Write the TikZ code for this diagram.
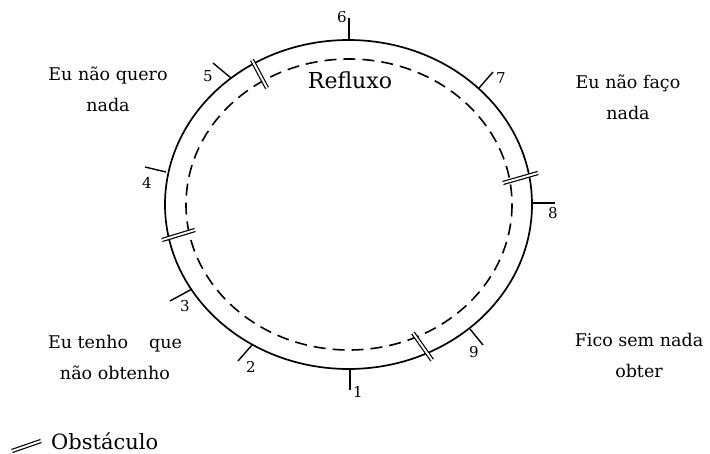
\documentclass[tikz,border=0pt]{standalone}
\usepackage{fontspec}
\setmainfont{DejaVu Serif}
\begin{document}
\begin{tikzpicture}[x=1pt,y=-1pt,
  ring/.style={line width=1.7pt},
  flow/.style={line width=1.6pt, dash pattern=on 12pt off 7pt},
  tick/.style={line width=1.4pt},
  obst/.style={double, double distance=1.9pt, line width=1.2pt},
  num/.style={font=\fontsize{15}{17}\selectfont, inner sep=0pt},
  lbl/.style={font=\fontsize{17.5}{31}\selectfont, align=center, inner sep=0pt}]
\useasboundingbox (0,0) rectangle (710,454);
% rings
\draw[ring] (348.5,204.5) ellipse [x radius=183.5, y radius=164.5];
\draw[flow] (349,204.5) ellipse [x radius=163, y radius=145.5];
% tick coordinates
\coordinate (t1a) at (350,369); \coordinate (t1b) at (350,390);
\coordinate (t2a) at (252,345); \coordinate (t2b) at (238,361);
\coordinate (t3a) at (192,289); \coordinate (t3b) at (170,301);
\coordinate (t4a) at (166,172); \coordinate (t4b) at (145,167);
\coordinate (t5a) at (231,78);  \coordinate (t5b) at (213,63);
\coordinate (t6a) at (349,40);  \coordinate (t6b) at (349,18);
\coordinate (t7a) at (479,88);  \coordinate (t7b) at (493,72);
\coordinate (t8a) at (533,203); \coordinate (t8b) at (555,203);
\coordinate (t9a) at (470,329); \coordinate (t9b) at (483,345);
\foreach \i in {1,...,9} {\draw[tick] (t\i a) -- (t\i b);}
% numbers
\node[num] (n1) at (358,392) {1};
\node[num] (n2) at (251,367) {2};
\node[num] (n3) at (185,306) {3};
\node[num] (n4) at (147,183) {4};
\node[num] (n5) at (208,76) {5};
\node[num] (n6) at (342,17) {6};
\node[num] (n7) at (501,78) {7};
\node[num] (n8) at (553,213) {8};
\node[num] (n9) at (474,352) {9};
% obstacles
\coordinate (o1a) at (252,60);  \coordinate (o1b) at (267,88);
\coordinate (o2a) at (162,240); \coordinate (o2b) at (195,230);
\coordinate (o3a) at (503,183); \coordinate (o3b) at (538,173);
\coordinate (o4a) at (413,333); \coordinate (o4b) at (432,360);
\foreach \i in {1,...,4} {\draw[obst] (o\i a) -- (o\i b);}
% texts
\node[font=\fontsize{22}{24}\selectfont, inner sep=0pt] (refl) at (350,80) {Refluxo};
\node[lbl] (q1) at (108,89) {Eu não quero\\nada};
\node[lbl] (q2) at (628,97) {Eu não faço\\nada};
\node[lbl] (q3) at (115,357) {Eu tenho\hspace{1.2em}que\\não obtenho};
\node[lbl] (q4) at (639,355) {Fico sem nada\\obter};
% legend
\coordinate (la) at (12,451); \coordinate (lb) at (41,441);
\draw[obst] (la) -- (lb);
\node[font=\fontsize{21}{23}\selectfont, anchor=west, inner sep=0pt] (leg) at (51,441) {Obstáculo};
\end{tikzpicture}
\end{document}
